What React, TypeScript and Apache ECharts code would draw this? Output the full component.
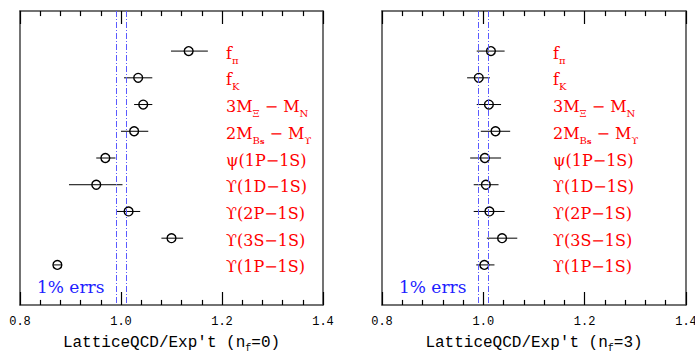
import React, { useEffect, useRef } from "react";
import * as echarts from "echarts";

// Observables (rows, top to bottom) as rich-text labels
const labels = [
  "f{s|π}",
  "f{s|K}",
  "3M{s|Ξ} − M{s|N}",
  "2M{s|B}{ss|s} − M{s|ϒ}",
  "ψ(1P−1S)",
  "ϒ(1D−1S)",
  "ϒ(2P−1S)",
  "ϒ(3S−1S)",
  "ϒ(1P−1S)",
];

// Quenched (n_f = 0)
const q0Center = [1.134, 1.034, 1.044, 1.026, 0.969, 0.951, 1.015, 1.1, 0.874];
const q0Low = [1.099, 1.006, 1.026, 1.0, 0.951, 0.897, 0.992, 1.08, 0.866];
const q0High = [1.172, 1.062, 1.062, 1.054, 0.989, 1.003, 1.038, 1.123, 0.882];

// Unquenched (n_f = 3)
const q3Center = [1.015, 0.991, 1.011, 1.024, 1.003, 1.005, 1.012, 1.037, 1.002];
const q3Low = [0.987, 0.968, 0.987, 0.995, 0.974, 0.981, 0.981, 1.007, 0.986];
const q3High = [1.042, 1.013, 1.035, 1.053, 1.035, 1.03, 1.042, 1.067, 1.022];

const xTicks = [0.8, 1.0, 1.2, 1.4];
const minorPerMajor = 5;
const errBand = [0.99, 1.01];
const axisTitles = ["LatticeQCD/Exp't (n{s|f}=0)", "LatticeQCD/Exp't (n{s|f}=3)"];
const bandLabel = "1% errs";

const LABEL_FONT = "DejaVu Serif";
const MONO_FONT = "Liberation Mono";
const FRAME = { color: "#444", width: 1.5 };
const Y_MAX = 11;
const MAJOR_LEN = 0.486; // in y-axis units (~13px)
const MINOR_LEN = 0.19; // (~5px)

function buildData(c: number[], lo: number[], hi: number[]) {
  return c.map((v, i) => [v, i + 1.5, lo[i], hi[i], i]);
}

// tick marks as mark lines placed through the axis scales
function tickMarks() {
  const vals: [number, number][] = [];
  for (let i = 0; i < xTicks.length; i++) {
    vals.push([xTicks[i], MAJOR_LEN]);
    if (i < xTicks.length - 1) {
      const step = (xTicks[i + 1] - xTicks[i]) / minorPerMajor;
      for (let k = 1; k < minorPerMajor; k++) vals.push([xTicks[i] + k * step, MINOR_LEN]);
    }
  }
  const st = { color: "#000", type: "solid", width: 1.2 };
  const out: any[] = [];
  vals.forEach(([v, len]) => {
    out.push([{ coord: [v, 0], lineStyle: st }, { coord: [v, len] }]);
    out.push([{ coord: [v, Y_MAX], lineStyle: st }, { coord: [v, Y_MAX - len] }]);
  });
  return out;
}

function makeRender(labelOffset: number) {
  return (params: any, api: any) => {
    const y = api.value(1);
    const pc = api.coord([api.value(0), y]);
    const pl = api.coord([api.value(2), y]);
    const ph = api.coord([api.value(3), y]);
    const idx = api.value(4);
    const cs = params.coordSys;
    return {
      type: "group",
      children: [
        {
          type: "line",
          shape: { x1: pl[0], y1: pc[1], x2: ph[0], y2: pc[1] },
          style: { stroke: "#000", lineWidth: 1 },
        },
        {
          type: "circle",
          shape: { cx: pc[0], cy: pc[1], r: 4.4 },
          style: { stroke: "#000", lineWidth: 1.4, fill: "none" },
        },
        {
          type: "text",
          x: cs.x + labelOffset,
          y: pc[1] + 2,
          style: {
            text: labels[idx],
            fill: "#ff0000",
            fontFamily: LABEL_FONT,
            fontSize: 16,
            lineHeight: 24,
            align: "left",
            verticalAlign: "middle",
            rich: {
              s: { fontFamily: LABEL_FONT, fontSize: 10, lineHeight: 12, verticalAlign: "bottom", fill: "#ff0000" },
              ss: { fontFamily: LABEL_FONT, fontSize: 8, fontWeight: "bold", lineHeight: 7, verticalAlign: "bottom", fill: "#ff0000" },
            },
          },
        },
      ],
    };
  };
}

export default function App() {
  const ref = useRef<HTMLDivElement>(null);
  useEffect(() => {
    if (!ref.current) return;
    const chart = echarts.init(ref.current, null, { renderer: "svg" });
    const grids = [
      { left: 20, top: 11, width: 303, height: 294 },
      { left: 382, top: 11, width: 304, height: 294 },
    ];
    const xAxisFor = (gi: number, pos: "top" | "bottom") => ({
      type: "value",
      gridIndex: gi,
      position: pos,
      min: xTicks[0],
      max: xTicks[xTicks.length - 1],
      interval: 0.2,
      splitLine: { show: false },
      axisLine: { show: true, onZero: false, lineStyle: FRAME },
      axisTick: { show: false },
      minorTick: { show: false },
      axisLabel: {
        show: pos === "bottom",
        formatter: (v: number) => v.toFixed(1),
        fontFamily: MONO_FONT,
        fontSize: 12,
        color: "#000",
        margin: 11,
        showMinLabel: true,
        showMaxLabel: true,
      },
      name: pos === "bottom" ? axisTitles[gi] : "",
      nameLocation: "middle",
      nameGap: 28,
      nameTextStyle: {
        fontFamily: MONO_FONT,
        fontSize: 16,
        color: "#000",
        lineHeight: 20,
        rich: {
          s: { fontFamily: MONO_FONT, fontSize: 10, lineHeight: 12, verticalAlign: "bottom", color: "#000" },
        },
      },
    });
    const yAxisFor = (gi: number, pos: "left" | "right") => ({
      type: "value",
      gridIndex: gi,
      position: pos,
      min: 0,
      max: Y_MAX,
      inverse: true,
      axisLine: { show: true, onZero: false, lineStyle: FRAME },
      axisTick: { show: false },
      minorTick: { show: false },
      axisLabel: { show: false },
      splitLine: { show: false },
    });
    const bandStyle = { color: "#5b5bff", type: [6, 2, 1, 2], width: 1 };
    const marks = {
      silent: true,
      symbol: ["none", "none"],
      label: { show: false },
      lineStyle: bandStyle,
      data: [...errBand.map((v) => ({ xAxis: v, lineStyle: bandStyle })), ...tickMarks()],
    };
    chart.setOption({
      animation: false,
      backgroundColor: "#fff",
      grid: grids.map((g) => ({
        ...g,
        show: false,
        containLabel: false,
        outerBoundsMode: "none",
      })),
      xAxis: [xAxisFor(0, "bottom"), xAxisFor(0, "top"), xAxisFor(1, "bottom"), xAxisFor(1, "top")],
      yAxis: [yAxisFor(0, "left"), yAxisFor(0, "right"), yAxisFor(1, "left"), yAxisFor(1, "right")],
      series: [
        {
          type: "custom",
          xAxisIndex: 0,
          yAxisIndex: 0,
          renderItem: makeRender(206),
          encode: { x: [0, 2, 3], y: 1 },
          data: buildData(q0Center, q0Low, q0High),
          markLine: marks,
          z: 3,
        },
        {
          type: "custom",
          xAxisIndex: 2,
          yAxisIndex: 2,
          renderItem: makeRender(171),
          encode: { x: [0, 2, 3], y: 1 },
          data: buildData(q3Center, q3Low, q3High),
          markLine: marks,
          z: 3,
        },
      ],
      graphic: [
        { type: "text", left: 37, top: 278, style: { text: bandLabel, fill: "#2020ff", fontFamily: LABEL_FONT, fontSize: 17 } },
        { type: "text", left: 399, top: 278, style: { text: bandLabel, fill: "#2020ff", fontFamily: LABEL_FONT, fontSize: 17 } },
      ],
    });
    return () => chart.dispose();
  }, []);
  return (
    <div ref={ref} style={{ position: "fixed", left: 0, top: 0, width: 695, height: 353, background: "#fff" }} />
  );
}
